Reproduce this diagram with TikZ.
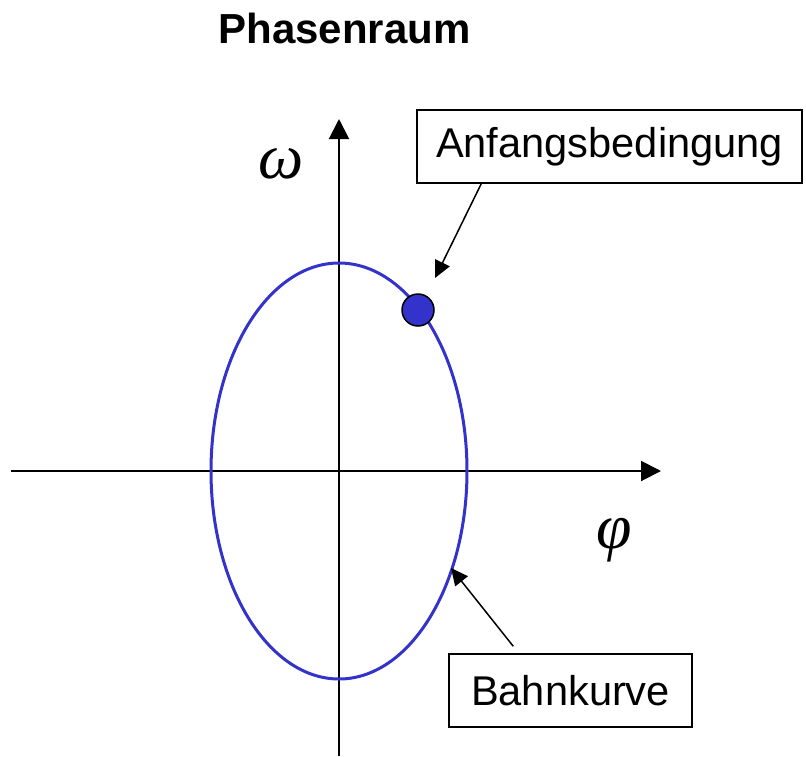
\documentclass[tikz,border=0pt]{standalone}
\usepackage{fontspec}
\setmainfont{Liberation Sans}
\newfontfamily\greekfont{Liberation Serif}
\usepackage{tikz}
\usetikzlibrary{arrows.meta, positioning}
\definecolor{orbit}{HTML}{3333CC}
\definecolor{ink}{HTML}{000000}
\tikzset{
  axis/.style={-{Triangle[length=20pt, width=20pt]}, line width=2pt, draw=ink},
  bahn/.style={draw=orbit, line width=3pt},
  lbl/.style={rectangle, draw=ink, line width=1.5pt, fill=white, inner sep=0pt,
              font=\fontsize{41.6}{50}\selectfont, text=ink},
  pointer/.style={-{Triangle[length=17pt, width=16pt]}, line width=1.5pt, draw=ink},
  state/.style={circle, fill=orbit, draw=ink, line width=1.5pt,
                minimum size=32pt, inner sep=0pt},
  sym/.style={font=\fontsize{64}{70}\selectfont\greekfont\itshape, inner sep=0pt},
}

\begin{document}
\begin{tikzpicture}[x=1pt, y=-1pt]
  \useasboundingbox (0,0) rectangle (806,756);

  % ---- title ----
  \node[anchor=base, font=\fontsize{42}{50}\selectfont\bfseries] (title)
    at (344.5,43) {Phasenraum};

  % ---- axes ----
  \coordinate (O) at (339,471);
  \coordinate (xl) at (11,471);
  \coordinate (xr) at (661,471);
  \coordinate (yb) at (339,756);
  \coordinate (yt) at (339,119);
  \draw[axis] (xl) -- (xr);
  \draw[axis] (yb) -- (yt);
  \node[sym] (omega) at (281,164) {ω};
  \node[sym] (phi) at (614,540) {φ};

  % ---- trajectory and start point ----
  \draw[bahn] (O) ellipse [x radius=128pt, y radius=208pt];
  \node[state] (start) at (418,310) {};

  % ---- labels ----
  \node[lbl, minimum width=385pt, minimum height=73pt] (anf)
    at (609.5,146.5) {Anfangsbedingung};
  \node[lbl, minimum width=243pt, minimum height=73pt] (kurve)
    at (570.5,690.5) {Bahnkurve};

  \coordinate (tipA) at (435,278);
  \coordinate (tipB) at (451,568);
  \draw[pointer] ([xshift=65pt]anf.south west) -- (tipA);
  \draw[pointer] ([xshift=65pt, yshift=7pt]kurve.north west) -- (tipB);
\end{tikzpicture}
\end{document}
